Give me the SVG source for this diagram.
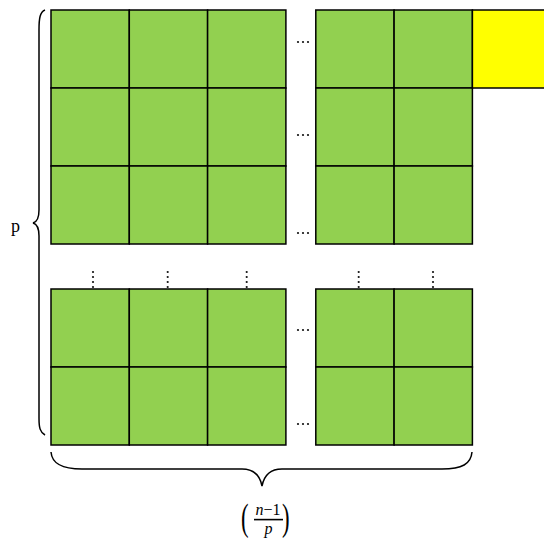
<svg xmlns="http://www.w3.org/2000/svg" width="544" height="542" viewBox="0 0 544 542">
<style>
.g{fill:#92D050;stroke:#000;stroke-width:1.5}
.y{fill:#FFFF00;stroke:#000;stroke-width:1.5}
.b{fill:none;stroke:#000;stroke-width:1.5}
.d{fill:#111}
.t{font-family:"Liberation Serif","DejaVu Serif",serif;fill:#000}
</style>
<rect width="544" height="542" fill="#fff"/>
<g id="grid-top-left">
<rect class="g" x="51" y="10" width="78.3" height="78"/><rect class="g" x="129.3" y="10" width="78.3" height="78"/><rect class="g" x="207.6" y="10" width="78.3" height="78"/>
<rect class="g" x="51" y="88" width="78.3" height="78"/><rect class="g" x="129.3" y="88" width="78.3" height="78"/><rect class="g" x="207.6" y="88" width="78.3" height="78"/>
<rect class="g" x="51" y="166" width="78.3" height="78"/><rect class="g" x="129.3" y="166" width="78.3" height="78"/><rect class="g" x="207.6" y="166" width="78.3" height="78"/>
</g>
<g id="grid-top-right">
<rect class="g" x="315.8" y="10" width="78.3" height="78"/><rect class="g" x="394.1" y="10" width="78.3" height="78"/>
<rect class="g" x="315.8" y="88" width="78.3" height="78"/><rect class="g" x="394.1" y="88" width="78.3" height="78"/>
<rect class="g" x="315.8" y="166" width="78.3" height="78"/><rect class="g" x="394.1" y="166" width="78.3" height="78"/>
</g>
<g id="yellow-cell"><rect class="y" x="472.4" y="10" width="73" height="78"/></g>
<g id="grid-bottom-left">
<rect class="g" x="51" y="289" width="78.3" height="78"/><rect class="g" x="129.3" y="289" width="78.3" height="78"/><rect class="g" x="207.6" y="289" width="78.3" height="78"/>
<rect class="g" x="51" y="367" width="78.3" height="78"/><rect class="g" x="129.3" y="367" width="78.3" height="78"/><rect class="g" x="207.6" y="367" width="78.3" height="78"/>
</g>
<g id="grid-bottom-right">
<rect class="g" x="315.8" y="289" width="78.3" height="78"/><rect class="g" x="394.1" y="289" width="78.3" height="78"/>
<rect class="g" x="315.8" y="367" width="78.3" height="78"/><rect class="g" x="394.1" y="367" width="78.3" height="78"/>
</g>
<g id="hdots">
<g transform="translate(0,42)"><circle class="d" cx="298" cy="0" r="1.1"/><circle class="d" cx="303" cy="0" r="1.1"/><circle class="d" cx="308" cy="0" r="1.1"/></g>
<g transform="translate(0,135)"><circle class="d" cx="298" cy="0" r="1.1"/><circle class="d" cx="303" cy="0" r="1.1"/><circle class="d" cx="308" cy="0" r="1.1"/></g>
<g transform="translate(0,233)"><circle class="d" cx="298" cy="0" r="1.1"/><circle class="d" cx="303" cy="0" r="1.1"/><circle class="d" cx="308" cy="0" r="1.1"/></g>
<g transform="translate(0,330)"><circle class="d" cx="298" cy="0" r="1.1"/><circle class="d" cx="303" cy="0" r="1.1"/><circle class="d" cx="308" cy="0" r="1.1"/></g>
<g transform="translate(0,424)"><circle class="d" cx="298" cy="0" r="1.1"/><circle class="d" cx="303" cy="0" r="1.1"/><circle class="d" cx="308" cy="0" r="1.1"/></g>
</g>
<g id="vdots">
<g transform="translate(93,0)"><circle class="d" cx="0" cy="272" r="1.1"/><circle class="d" cx="0" cy="277" r="1.1"/><circle class="d" cx="0" cy="282" r="1.1"/><circle class="d" cx="0" cy="287" r="1.1"/></g>
<g transform="translate(167.7,0)"><circle class="d" cx="0" cy="272" r="1.1"/><circle class="d" cx="0" cy="277" r="1.1"/><circle class="d" cx="0" cy="282" r="1.1"/><circle class="d" cx="0" cy="287" r="1.1"/></g>
<g transform="translate(246.7,0)"><circle class="d" cx="0" cy="272" r="1.1"/><circle class="d" cx="0" cy="277" r="1.1"/><circle class="d" cx="0" cy="282" r="1.1"/><circle class="d" cx="0" cy="287" r="1.1"/></g>
<g transform="translate(358.7,0)"><circle class="d" cx="0" cy="272" r="1.1"/><circle class="d" cx="0" cy="277" r="1.1"/><circle class="d" cx="0" cy="282" r="1.1"/><circle class="d" cx="0" cy="287" r="1.1"/></g>
<g transform="translate(433,0)"><circle class="d" cx="0" cy="272" r="1.1"/><circle class="d" cx="0" cy="277" r="1.1"/><circle class="d" cx="0" cy="282" r="1.1"/><circle class="d" cx="0" cy="287" r="1.1"/></g>
</g>
<g id="braces">
<path class="b" d="M45,10 C40,12 39,18 39,30 L39,210 C39,218 37,222 33,223 C37,224 39,228 39,236 L39,418 C39,428 40,432 45,435"/>
<path class="b" d="M51,452 C52,464 62,469 82,469 L242,469 C254,469 260,476 262,486 C264,476 270,469 282,469 L442,469 C462,469 471,464 472,452"/>
</g>
<g id="labels">
<text class="t" x="11" y="232" font-size="18">p</text>
<text class="t" font-size="38" transform="translate(241,530) scale(0.6,1)">(</text>
<text class="t" font-size="38" transform="translate(282,530) scale(0.6,1)">)</text>
<text class="t" x="268" y="515" font-size="16" text-anchor="middle"><tspan font-style="italic">n</tspan>−1</text>
<rect x="254" y="518.8" width="29" height="1.6" fill="#000"/>
<text class="t" x="268.5" y="534" font-size="16" text-anchor="middle" font-style="italic">p</text>
</g>
</svg>
